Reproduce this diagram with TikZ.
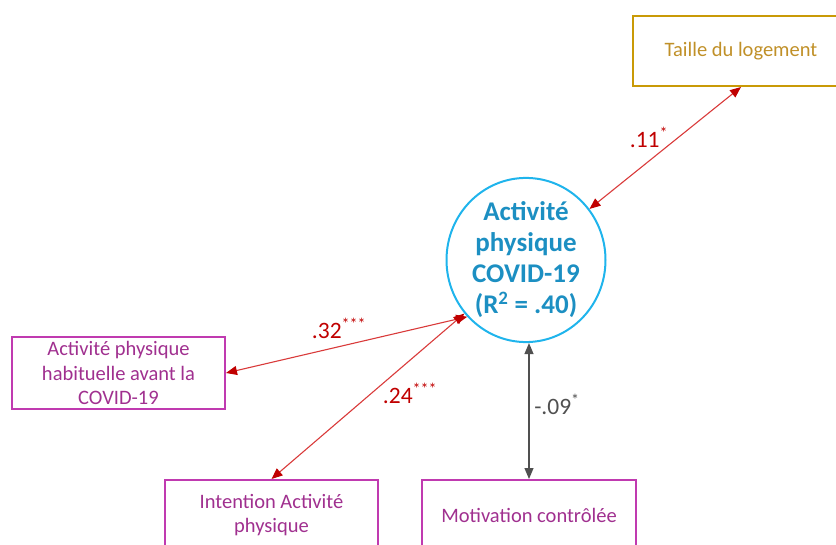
\documentclass[tikz,border=0pt]{standalone}
\usepackage{fontspec}
\setmainfont{Carlito}
\usetikzlibrary{arrows.meta,shapes.geometric}
\definecolor{gold}{HTML}{C99A06}
\definecolor{goldtxt}{HTML}{C09028}
\definecolor{purp}{HTML}{C03AB0}
\definecolor{purptxt}{HTML}{A0308F}
\definecolor{cyanb}{HTML}{1FB4EC}
\definecolor{cyant}{HTML}{1C8FC2}
\definecolor{redl}{HTML}{D93A3A}
\definecolor{redt}{HTML}{C00000}
\definecolor{grayl}{HTML}{505050}
\tikzset{
  varbox/.style={draw, line width=2pt, rectangle, align=center, inner sep=2pt},
  goldbox/.style={varbox, draw=gold, text=goldtxt, font=\fontsize{20.5}{24}\selectfont},
  purpbox/.style={varbox, draw=purp, text=purptxt, font=\fontsize{20.5}{24.5}\selectfont},
  rel/.style={line width=1.1pt, draw=redl, {Triangle[length=11pt,width=9pt,color=redt]}-{Triangle[length=11pt,width=9pt,color=redt]}},
  relg/.style={line width=1.1pt, draw=grayl, {Triangle[length=11pt,width=9pt]}-{Triangle[length=11pt,width=9pt]}, grayl},
  coef/.style={text=redt, font=\fontsize{23.5}{26}\selectfont, inner sep=0pt},
  coefg/.style={text=grayl, font=\fontsize{23.5}{26}\selectfont, inner sep=0pt},
  st/.style={}
}
\newcommand{\stars}[1]{\textsuperscript{\fontsize{16}{16}\selectfont #1}}
\begin{document}
\begin{tikzpicture}[x=1pt,y=-1pt]
\useasboundingbox (0,0) rectangle (836,545);
\clip (0,0) rectangle (836,545);
\node[goldbox, minimum width=216pt, minimum height=70pt] (taille) at (741,51) {Taille du logement};
\node[draw=cyanb, line width=2pt, ellipse, minimum width=159pt, minimum height=150pt, inner sep=0pt, align=center, text=cyant,
  font=\bfseries\fontsize{27}{31}\selectfont] (ap) at (526,260)
  {Activité\\physique\\COVID-19\\(R\textsuperscript{2} = .40)};
\node[purpbox, minimum width=213pt, minimum height=72pt] (hab) at (118.5,373)
  {Activité physique\\habituelle avant la\\COVID-19};
\node[purpbox, minimum width=213pt, minimum height=70pt] (int) at (271.5,515)
  {Intention Activité\\physique};
\node[purpbox, minimum width=214pt, minimum height=70pt] (mot) at (529,515)
  {Motivation contrôlée};
\draw[rel] (taille.south) -- (ap);
\draw[rel] (hab.east) -- (ap.224);
\draw[rel] (int.north) -- (ap.221);
\draw[relg] (mot.north |- ap.south) -- (mot.north);
\node[coef] (c1) at (649,137) {.11\stars{*}};
\node[coef] (c2) at (339,328) {.32\stars{***}};
\node[coef] (c3) at (410,393) {.24\stars{***}};
\node[coefg] (c4) at (557,404) {-.09\stars{*}};
\end{tikzpicture}
\end{document}
